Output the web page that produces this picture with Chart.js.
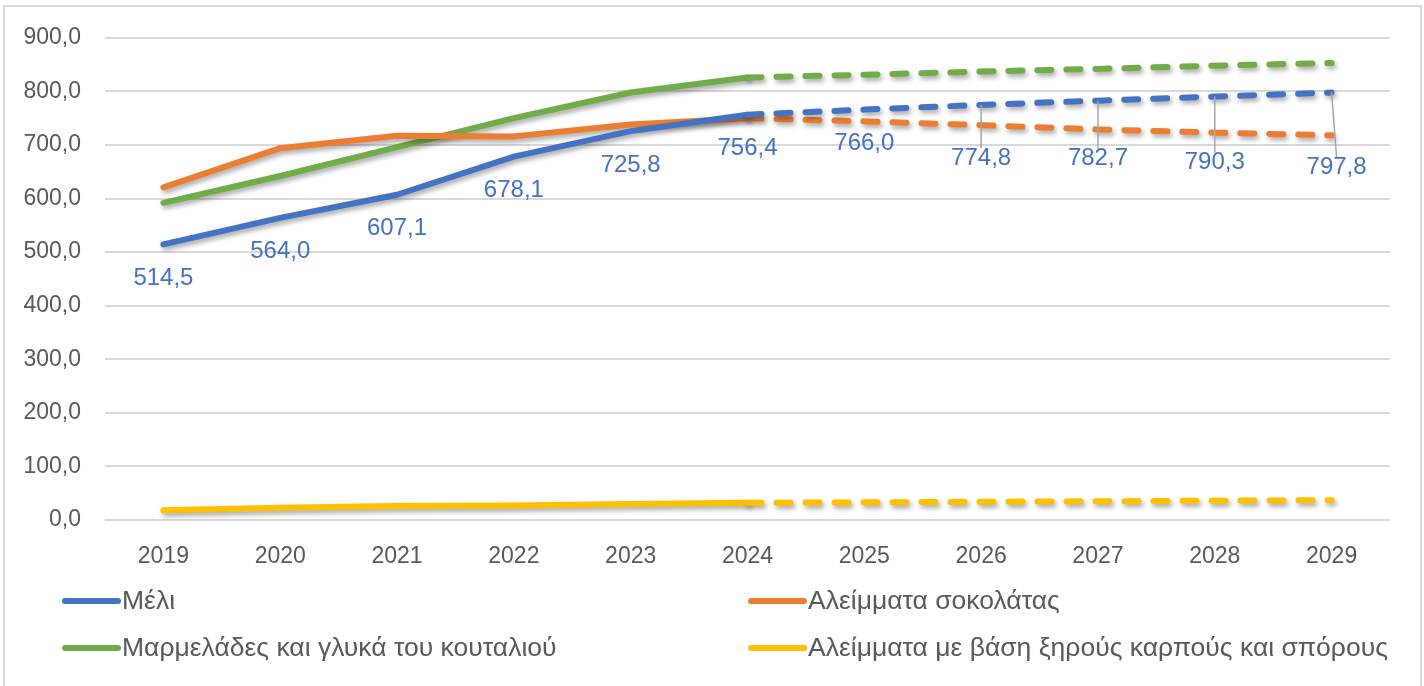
<!DOCTYPE html>
<html lang="el">
<head>
  <meta charset="UTF-8">
  <title>Μέλι και αλείμματα</title>
  <script src="https://cdn.jsdelivr.net/npm/chart.js"></script>
  <style>
    body {
      margin: 0;
      padding: 0;
      background-color: #fff;
    }
    .wrap {
      position: relative;
      width: 1424px;
      height: 686px;
    }
  </style>
</head>
<body>
  <div class="wrap">
    <canvas id="grafima" width="1424" height="686"></canvas>
  </div>

  <script>
    // data
    var years = ['2019', '2020', '2021', '2022', '2023', '2024', '2025', '2026', '2027', '2028', '2029'];
    var seriesNames = ['Μέλι', 'Αλείμματα σοκολάτας', 'Μαρμελάδες και γλυκά του κουταλιού', 'Αλείμματα με βάση ξηρούς καρπούς και σπόρους'];
    var meli = [514.5, 564.0, 607.1, 678.1, 725.8, 756.4, 766.0, 774.8, 782.7, 790.3, 797.8];
    var sokolata = [621, 694, 717, 716, 738, 750, 744, 737, 729, 723, 718];
    var marmelades = [592, 642, 696, 750, 798, 826, 831, 837, 842, 848, 853];
    var xiroiKarpoi = [18, 23, 26, 27, 30, 32, 33, 34, 35, 36, 37];
    var yMin = 0, yMax = 900, yStep = 100;
    var forecastFrom = 5; // index of 2024, dashed after this

    var colors = ['#4472C4', '#ED7D31', '#70AD47', '#FFC000'];
    var textColor = '#595959';
    var fontName = '"Liberation Sans", Arial, sans-serif';

    function fmt(v) {
      return v.toFixed(1).replace('.', ',');
    }

    function makeSet(i, values) {
      return {
        label: seriesNames[i],
        data: values,
        borderColor: colors[i],
        backgroundColor: colors[i],
        borderWidth: 6,
        borderCapStyle: 'round',
        borderJoinStyle: 'round',
        pointRadius: 0,
        pointHoverRadius: 0,
        tension: 0,
        segment: {
          borderDash: function(c) { return c.p0DataIndex >= forecastFrom ? [14, 15] : undefined; }
        }
      };
    }

    // label shift below the honey points (px), leader line when far
    var labelDy = [34, 34, 34, 34, 34, 34, 34, 53, 58, 66, 75];
    var labelDx = [0, 0, 0, 0, 0, 0, 0, 0, 0, 0, 5];

    var shadowPlugin = {
      id: 'shadow',
      beforeDatasetsDraw: function(chart) {
        var ctx = chart.ctx;
        ctx.save();
        ctx.shadowColor = 'rgba(0,0,0,0.35)';
        ctx.shadowBlur = 5;
        ctx.shadowOffsetX = 2;
        ctx.shadowOffsetY = 3;
      },
      afterDatasetsDraw: function(chart) {
        chart.ctx.restore();
      }
    };

    var extrasPlugin = {
      id: 'extras',
      beforeDraw: function(chart) {
        var ctx = chart.ctx;
        ctx.save();
        ctx.strokeStyle = '#d9d9d9';
        ctx.lineWidth = 2;
        ctx.beginPath();
        ctx.moveTo(4, 690);
        ctx.lineTo(4, 6);
        ctx.lineTo(1421, 6);
        ctx.lineTo(1421, 690);
        ctx.stroke();
        ctx.restore();
      },
      afterDraw: function(chart) {
        var ctx = chart.ctx;
        var meta = chart.getDatasetMeta(0);
        ctx.save();
        ctx.font = '24px ' + fontName;
        ctx.textAlign = 'center';
        ctx.textBaseline = 'middle';
        meta.data.forEach(function(pt, i) {
          var lx = pt.x + labelDx[i];
          var ly = pt.y + labelDy[i];
          if (labelDy[i] > 45) {
            ctx.strokeStyle = '#a6a6a6';
            ctx.lineWidth = 1.5;
            ctx.beginPath();
            ctx.moveTo(pt.x, pt.y);
            ctx.lineTo(lx, ly - 10);
            ctx.stroke();
          }
          ctx.fillStyle = colors[0];
          ctx.fillText(fmt(meli[i]), lx, ly);
        });

        // legend in two columns
        var cols = [62, 748];
        var rows = [601, 648];
        ctx.font = '26.5px ' + fontName;
        ctx.textAlign = 'left';
        chart.data.datasets.forEach(function(ds, i) {
          var x = cols[i % 2];
          var y = rows[Math.floor(i / 2)];
          ctx.strokeStyle = ds.borderColor;
          ctx.lineWidth = 6;
          ctx.lineCap = 'round';
          ctx.beginPath();
          ctx.moveTo(x + 3, y);
          ctx.lineTo(x + 56, y);
          ctx.stroke();
          ctx.fillStyle = textColor;
          ctx.fillText(ds.label, x + 60, y + 1);
        });
        ctx.restore();
      }
    };

    var ctx = document.getElementById('grafima').getContext('2d');
    var chart = new Chart(ctx, {
      type: 'line',
      data: {
        labels: years,
        datasets: [
          makeSet(0, meli),
          makeSet(1, sokolata),
          makeSet(2, marmelades),
          makeSet(3, xiroiKarpoi)
        ]
      },
      options: {
        responsive: false,
        animation: false,
        layout: {
          padding: { left: 0, right: 34, top: 36, bottom: 116 }
        },
        plugins: {
          legend: { display: false },
          tooltip: { enabled: false }
        },
        scales: {
          x: {
            offset: true,
            grid: { display: false },
            border: { display: false },
            ticks: {
              color: textColor,
              font: { family: fontName, size: 23 },
              padding: 15
            },
            afterFit: function(scale) { scale.height = 50; }
          },
          y: {
            min: yMin,
            max: yMax,
            grid: { color: '#d9d9d9', lineWidth: 2, drawTicks: false },
            border: { display: false },
            ticks: {
              stepSize: yStep,
              color: textColor,
              font: { family: fontName, size: 23 },
              padding: 24,
              callback: function(v) { return fmt(v); }
            },
            afterFit: function(scale) { scale.width = 105; }
          }
        }
      },
      plugins: [shadowPlugin, extrasPlugin]
    });
  </script>
</body>
</html>
